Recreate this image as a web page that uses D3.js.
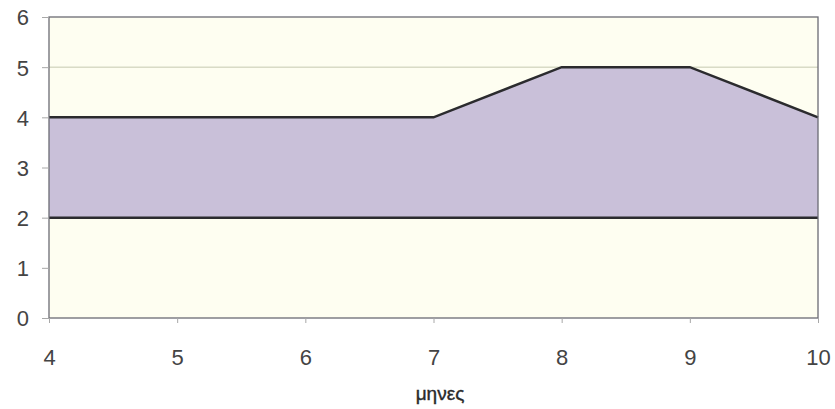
<!DOCTYPE html>
<html>
<head>
<meta charset="utf-8">
<script src="https://cdn.jsdelivr.net/npm/d3@7"></script>
<style>
  html, body { margin: 0; padding: 0; background: #ffffff; }
  svg { display: block; }
</style>
</head>
<body>
<svg id="chart" width="835" height="409"></svg>
<script>
// Months on the horizontal axis
const months = [4, 5, 6, 7, 8, 9, 10];
// Upper and lower boundaries of the shaded band
const upperValues = [4, 4, 4, 4, 5, 5, 4];
const lowerValues = [2, 2, 2, 2, 2, 2, 2];
// Tick labels and gridlines
const yTicks = [0, 1, 2, 3, 4, 5, 6];
const xTicks = [4, 5, 6, 7, 8, 9, 10];
const gridValues = [5];
const xTitle = "μηνες";

const svg = d3.select("#chart");
const margin = { left: 49, right: 17, top: 17, bottom: 91 };
const W = 835, H = 409;

const x = d3.scaleLinear().domain([4, 10]).range([margin.left, W - margin.right]);
const y = d3.scaleLinear().domain([0, 6]).range([H - margin.bottom, margin.top]);

const band = months.map((m, i) => ({ m, hi: upperValues[i], lo: lowerValues[i] }));

// plot background
svg.append("rect")
  .attr("x", x(4)).attr("y", y(6))
  .attr("width", x(10) - x(4)).attr("height", y(0) - y(6))
  .attr("fill", "#fefef1");

// gridlines
svg.append("g").selectAll("line")
  .data(gridValues)
  .join("line")
  .attr("x1", x(4)).attr("x2", x(10))
  .attr("y1", d => y(d)).attr("y2", d => y(d))
  .attr("stroke", "#c5c9b0").attr("stroke-width", 1);

// shaded band
svg.append("path")
  .datum(band)
  .attr("d", d3.area().x(d => x(d.m)).y0(d => y(d.lo)).y1(d => y(d.hi)))
  .attr("fill", "#c9c0d9");

// boundary lines
svg.append("path")
  .datum(band)
  .attr("d", d3.line().x(d => x(d.m)).y(d => y(d.hi)))
  .attr("fill", "none").attr("stroke", "#2b2b2e").attr("stroke-width", 2.5);
svg.append("path")
  .datum(band)
  .attr("d", d3.line().x(d => x(d.m)).y(d => y(d.lo)))
  .attr("fill", "none").attr("stroke", "#2b2b2e").attr("stroke-width", 2.5);

// plot frame
svg.append("rect")
  .attr("x", x(4)).attr("y", y(6))
  .attr("width", x(10) - x(4)).attr("height", y(0) - y(6))
  .attr("fill", "none").attr("stroke", "#6b6b73").attr("stroke-width", 1.3);

// axes
const yAxis = svg.append("g")
  .attr("transform", `translate(${x(4)},0)`)
  .call(d3.axisLeft(y).tickValues(yTicks).tickSize(7).tickPadding(13).tickFormat(d3.format("d")));
const xAxis = svg.append("g")
  .attr("transform", `translate(0,${y(0)})`)
  .call(d3.axisBottom(x).tickValues(xTicks).tickSize(5).tickPadding(26).tickFormat(d3.format("d")));

[yAxis, xAxis].forEach(g => {
  g.select(".domain").remove();
  g.selectAll(".tick line").attr("stroke", "#a8a8a8");
  g.selectAll(".tick text")
    .attr("fill", "#444")
    .style("font-family", "'Liberation Sans', Arial, sans-serif")
    .style("font-size", "22px");
});
yAxis.selectAll(".tick text").attr("dy", "0.36em");

svg.append("text")
  .attr("x", 440)
  .attr("y", 400)
  .attr("text-anchor", "middle")
  .attr("fill", "#2a2a2a")
  .style("font-family", "'Liberation Sans', Arial, sans-serif")
  .style("font-size", "19px")
  .style("stroke", "#2a2a2a")
  .style("stroke-width", "0.4px")
  .text(xTitle);
</script>
</body>
</html>
